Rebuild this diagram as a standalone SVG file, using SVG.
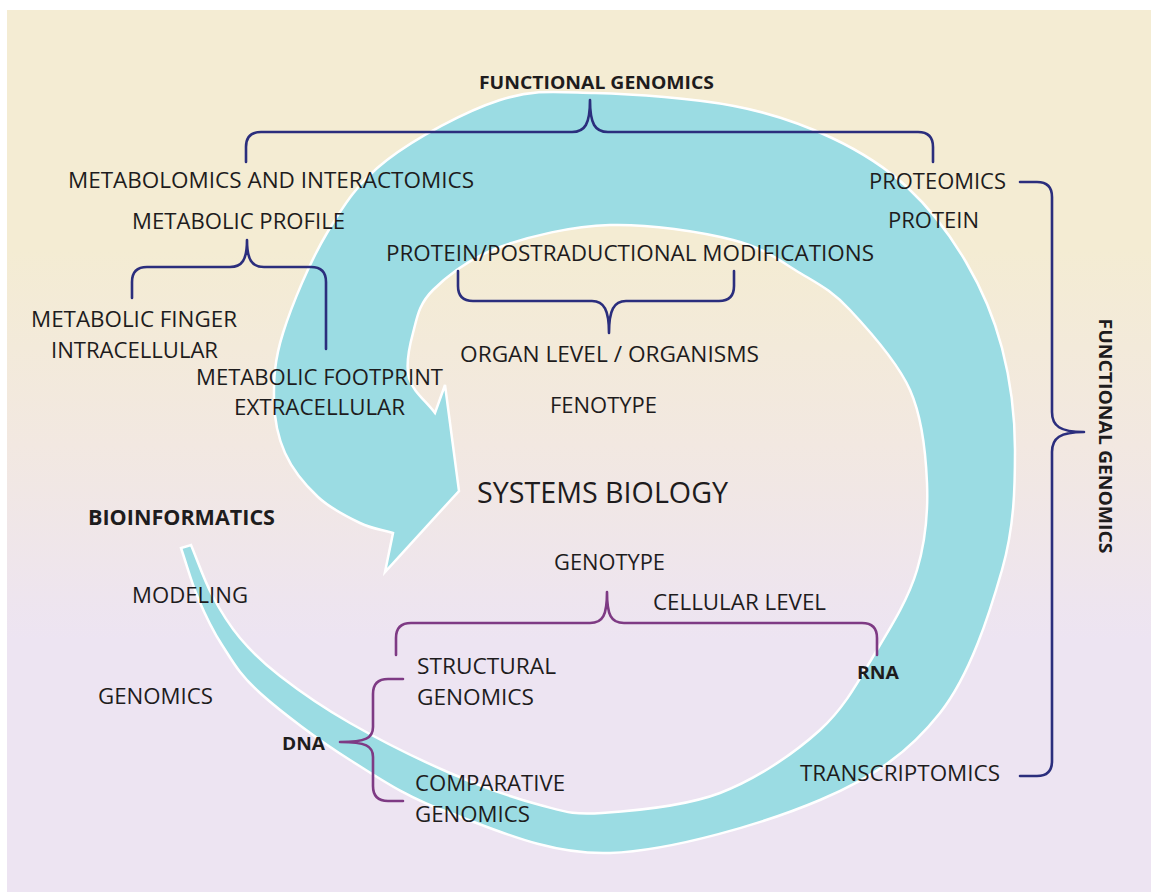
<svg xmlns="http://www.w3.org/2000/svg" width="1151" height="892" viewBox="0 0 1151 892">
<defs>
<linearGradient id="bg" x1="0" y1="250" x2="0" y2="640" gradientUnits="userSpaceOnUse">
<stop offset="0" stop-color="#f4ecd3"/>
<stop offset="0.5" stop-color="#f2e8e1"/>
<stop offset="1" stop-color="#ede4f2"/>
</linearGradient>
<style>
text{font-family:"Open Sans","Liberation Sans",sans-serif;fill:#1e1c1d;font-size:22px}
.b{font-weight:bold;font-size:18px}
.big{font-size:29px}
.navy{fill:none;stroke:#2b2e7d;stroke-width:2.6;stroke-linecap:round;stroke-linejoin:round}
.purp{fill:none;stroke:#7e3a84;stroke-width:2.6;stroke-linecap:round;stroke-linejoin:round}
.band{fill:#9bdce3;stroke:#ffffff;stroke-width:2.5;stroke-linejoin:miter}
</style>
</defs>
<rect x="0" y="0" width="1151" height="892" fill="#ffffff"/>
<rect x="7" y="10" width="1144" height="882" fill="url(#bg)"/>

<g id="spiral">
<path class="band" d="M181,548 C186.7,564.7 191.2,581.8 198,598 C204.8,614.2 211.7,629.2 222,645 C232.3,660.8 238.7,673.8 260,693 C281.3,712.2 318.3,740 350,760 C381.7,780 406.7,797.5 450,813 C493.3,828.5 548.3,855.2 610,853 C671.7,850.8 765,823.3 820,800 C875,776.7 909.7,751.3 940,713 C970.3,674.7 989.5,613.8 1002,570 C1014.5,526.2 1015,487 1015,450 C1015,413 1010.2,379.3 1002,348 C993.8,316.7 981.7,288.7 966,262 C950.3,235.3 930.3,208.7 908,188 C885.7,167.3 861,151.7 832,138 C803,124.3 773.5,113.5 734,106 C694.5,98.5 634,94 595,93 C556,92 534.7,88.8 500,100 C465.3,111.2 415.8,137.8 387,160 C358.2,182.2 344.3,204.2 327,233 C309.7,261.8 291.8,305.2 283,333 C274.2,360.8 273.7,380 274,400 C274.3,420 277.7,436.8 285,453 C292.3,469.2 305.5,485.3 318,497 C330.5,508.7 347.5,517 360,523 C372.5,529 382,529.7 393,533 L385,572 L459,491 L445,385 L435,413 C426.3,401.3 412.7,391.3 409,378 C405.3,364.7 409,347.7 413,333 C417,318.3 418.5,304.3 433,290 C447.5,275.7 470.5,257.8 500,247 C529.5,236.2 571.2,226.2 610,225 C648.8,223.8 701.3,232 733,240 C764.7,248 780.5,261.3 800,273 C819.5,284.7 831.7,290.5 850,310 C868.3,329.5 897.2,361.2 910,390 C922.8,418.8 925.8,453 927,483 C928.2,513 925.3,542.2 917,570 C908.7,597.8 893.2,623.3 877,650 C860.8,676.7 846.2,706.2 820,730 C793.8,753.8 756.3,779.2 720,793 C683.7,806.8 632,811 602,813 C572,815 565.3,811.7 540,805 C514.7,798.3 481.7,786.7 450,773 C418.3,759.3 378.3,739.2 350,723 C321.7,706.8 298.3,690.2 280,676 C261.7,661.8 251.3,651.5 240,638 C228.7,624.5 220.2,610.5 212,595 C203.8,579.5 198,561.7 191,545 Z"/>
</g>

<g id="connectors">
<path id="br-top" class="navy" d="M246,162 L246,147 Q246,132 261,132 L572,132 C585,132 590,124 590,100 C590,124 595,132 608,132 L918,132 Q933,132 933,147 L933,162"/>
<path id="br-profile" class="navy" d="M132,298 L132,282 Q132,267 147,267 L230,267 C242,267 247,260 247,240 C247,260 252,267 264,267 L311,267 Q326,267 326,282 L326,349"/>
<path id="br-postrad" class="navy" d="M458,271 L458,286 Q458,301 473,301 L592,301 C604,301 609,310 609,333 C609,310 614,301 626,301 L719,301 Q734,301 734,286 L734,271"/>
<path id="br-right" class="navy" d="M1020,182 L1037,182 Q1052,182 1052,197 L1052,412 C1052,426 1060,432 1084,432 C1060,432 1052,438 1052,452 L1052,761 Q1052,776 1037,776 L1020,776"/>
<path id="br-cellular" class="purp" d="M396,655 L396,638 Q396,623 411,623 L590,623 C603,623 607,615 607,592 C607,615 611,623 624,623 L862,623 Q877,623 877,638 L877,655"/>
<path id="br-dna" class="purp" d="M403,679 L388,679 Q373,679 373,694 L373,727 C373,738 366,742 340,742 C366,742 373,746 373,757 L373,786 Q373,801 388,801 L403,801"/>
</g>

<g id="n-functional-top"><text class="b" x="479" y="89" textLength="235" lengthAdjust="spacingAndGlyphs">FUNCTIONAL GENOMICS</text></g>
<g id="n-metabolomics"><text x="68" y="188" textLength="406" lengthAdjust="spacingAndGlyphs">METABOLOMICS AND INTERACTOMICS</text></g>
<g id="n-proteomics"><text x="869" y="189" textLength="137" lengthAdjust="spacingAndGlyphs">PROTEOMICS</text></g>
<g id="n-metabolic-profile"><text x="132" y="229" textLength="213" lengthAdjust="spacingAndGlyphs">METABOLIC PROFILE</text></g>
<g id="n-protein"><text x="888" y="228" textLength="91" lengthAdjust="spacingAndGlyphs">PROTEIN</text></g>
<g id="n-postrad"><text x="386" y="261" textLength="488" lengthAdjust="spacingAndGlyphs">PROTEIN/POSTRADUCTIONAL MODIFICATIONS</text></g>
<g id="n-finger"><text x="31" y="327" textLength="206" lengthAdjust="spacingAndGlyphs">METABOLIC FINGER</text><text x="51" y="358" textLength="167" lengthAdjust="spacingAndGlyphs">INTRACELLULAR</text></g>
<g id="n-footprint"><text x="196" y="385" textLength="247" lengthAdjust="spacingAndGlyphs">METABOLIC FOOTPRINT</text><text x="234" y="415" textLength="171" lengthAdjust="spacingAndGlyphs">EXTRACELLULAR</text></g>
<g id="n-organ"><text x="460" y="362" textLength="299" lengthAdjust="spacingAndGlyphs">ORGAN LEVEL / ORGANISMS</text></g>
<g id="n-fenotype"><text x="550" y="413" textLength="107" lengthAdjust="spacingAndGlyphs">FENOTYPE</text></g>
<g id="n-systems"><text class="big" x="477" y="503" textLength="251" lengthAdjust="spacingAndGlyphs">SYSTEMS BIOLOGY</text></g>
<g id="n-bioinformatics"><text class="b" style="font-size:21px" x="88" y="525" textLength="187" lengthAdjust="spacingAndGlyphs">BIOINFORMATICS</text></g>
<g id="n-modeling"><text x="132" y="603" textLength="116" lengthAdjust="spacingAndGlyphs">MODELING</text></g>
<g id="n-genotype"><text x="554" y="570" textLength="111" lengthAdjust="spacingAndGlyphs">GENOTYPE</text></g>
<g id="n-cellular"><text x="653" y="610" textLength="173" lengthAdjust="spacingAndGlyphs">CELLULAR LEVEL</text></g>
<g id="n-structural"><text x="417" y="674" textLength="139" lengthAdjust="spacingAndGlyphs">STRUCTURAL</text><text x="417" y="705" textLength="117" lengthAdjust="spacingAndGlyphs">GENOMICS</text></g>
<g id="n-rna"><text class="b" x="857" y="679" textLength="42" lengthAdjust="spacingAndGlyphs">RNA</text></g>
<g id="n-genomics"><text x="98" y="704" textLength="115" lengthAdjust="spacingAndGlyphs">GENOMICS</text></g>
<g id="n-dna"><text class="b" x="282" y="750" textLength="43" lengthAdjust="spacingAndGlyphs">DNA</text></g>
<g id="n-comparative"><text x="415" y="791" textLength="150" lengthAdjust="spacingAndGlyphs">COMPARATIVE</text><text x="415" y="822" textLength="115" lengthAdjust="spacingAndGlyphs">GENOMICS</text></g>
<g id="n-transcriptomics"><text x="800" y="781" textLength="200" lengthAdjust="spacingAndGlyphs">TRANSCRIPTOMICS</text></g>
<g id="n-functional-right"><text class="b" transform="translate(1099,436) rotate(90)" x="0" y="0" text-anchor="middle" textLength="235" lengthAdjust="spacingAndGlyphs">FUNCTIONAL GENOMICS</text></g>
</svg>
